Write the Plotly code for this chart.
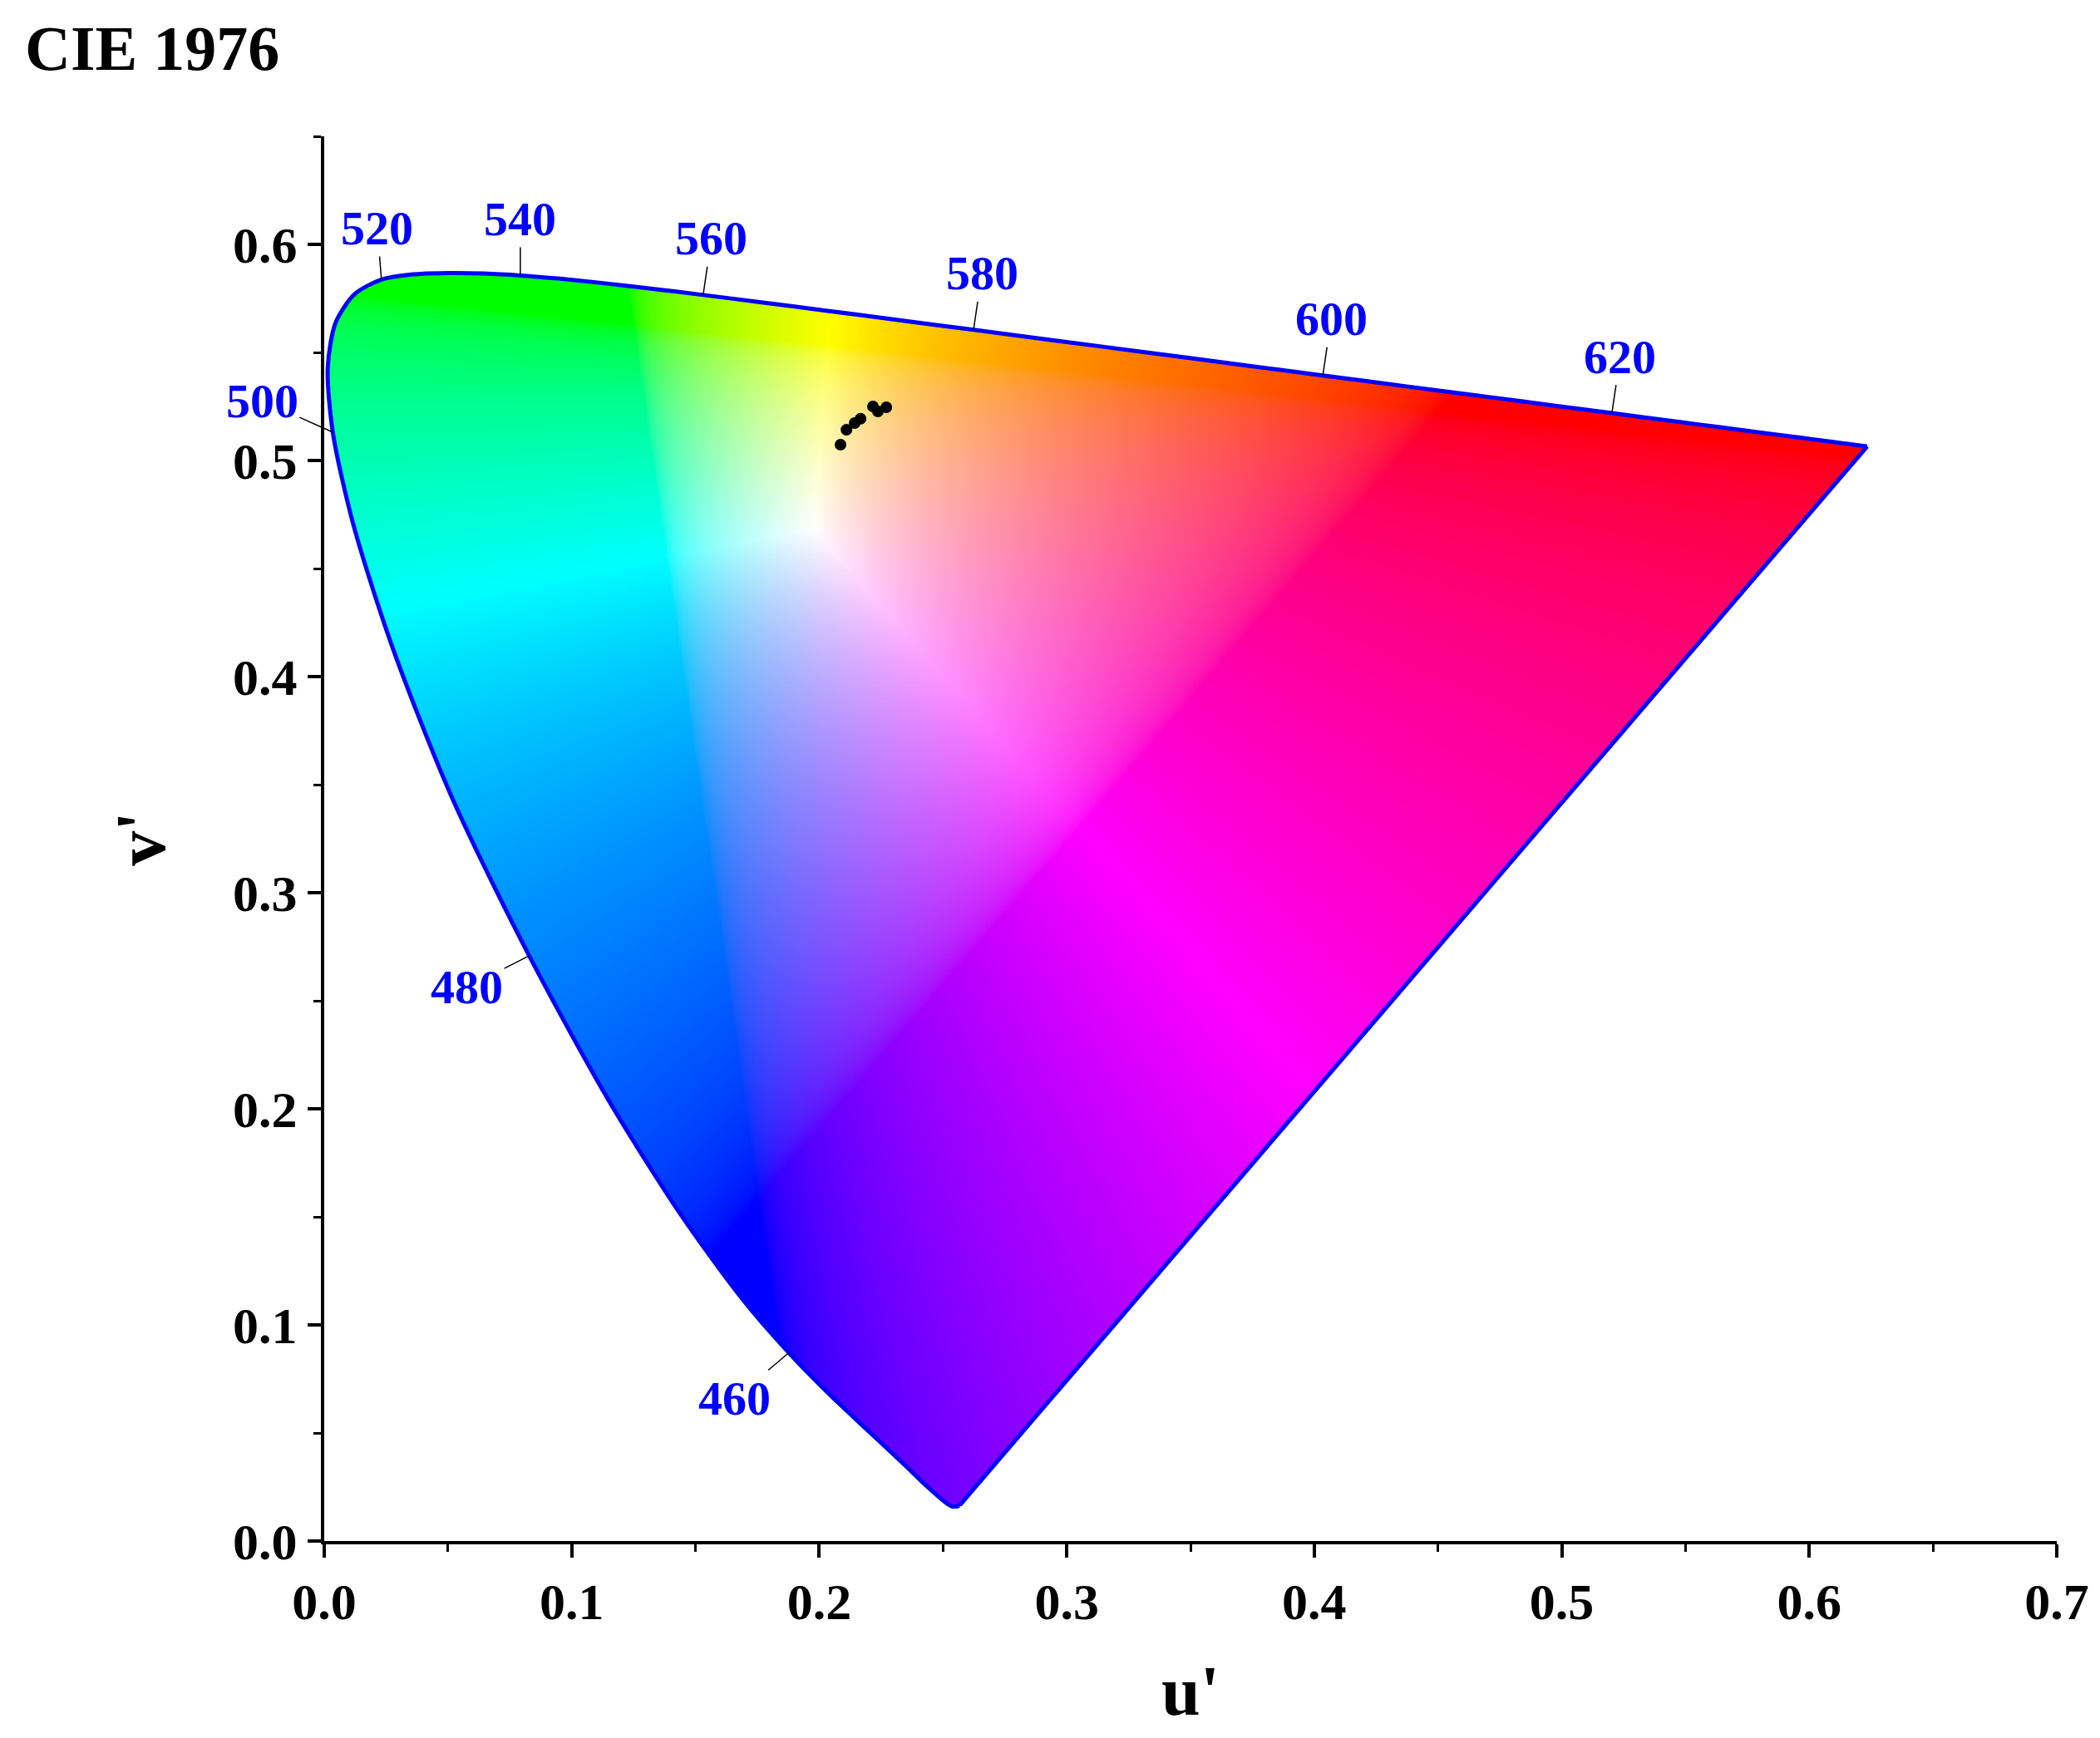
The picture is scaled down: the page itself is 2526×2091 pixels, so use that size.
import numpy as np
import plotly.graph_objects as go

# CIE 1931 2-degree spectral locus (x, y chromaticity)
wavelengths = [380,385,390,395,400,405,410,415,420,425,430,435,440,445,450,455,460,465,470,475,480,485,490,495,500,505,510,515,520,525,530,535,540,545,550,555,560,565,570,575,580,585,590,595,600,605,610,615,620,625,630,635,640,645,650,655,660,665,670,675,680,690,700]
locus_x = [0.1741,0.1740,0.1738,0.1736,0.1733,0.1730,0.1726,0.1721,0.1714,0.1703,0.1689,0.1669,0.1644,0.1611,0.1566,0.1510,0.1440,0.1355,0.1241,0.1096,0.0913,0.0687,0.0454,0.0235,0.0082,0.0039,0.0139,0.0389,0.0743,0.1142,0.1547,0.1929,0.2296,0.2658,0.3016,0.3373,0.3731,0.4087,0.4441,0.4788,0.5125,0.5448,0.5752,0.6029,0.6270,0.6482,0.6658,0.6801,0.6915,0.7006,0.7079,0.7140,0.7190,0.7230,0.7260,0.7283,0.7300,0.7311,0.7320,0.7327,0.7334,0.7344,0.7347]
locus_y = [0.0050,0.0050,0.0049,0.0049,0.0048,0.0048,0.0048,0.0048,0.0051,0.0058,0.0069,0.0086,0.0109,0.0138,0.0177,0.0227,0.0297,0.0399,0.0578,0.0868,0.1327,0.2007,0.2950,0.4127,0.5384,0.6548,0.7502,0.8120,0.8338,0.8262,0.8059,0.7816,0.7543,0.7243,0.6923,0.6589,0.6245,0.5896,0.5547,0.5202,0.4866,0.4544,0.4242,0.3965,0.3725,0.3514,0.3340,0.3197,0.3083,0.2993,0.2920,0.2859,0.2809,0.2770,0.2740,0.2717,0.2700,0.2689,0.2680,0.2673,0.2666,0.2656,0.2653]

label_wl = [460,480,500,520,540,560,580,600,620]
label_off = [(-65,55),(-75,38),(-85,-38),(-5,-62),(0,-68),(10,-68),(10,-68),(10,-68),(10,-68)]

# measured points (u', v')
pts_u = [0.2086,0.2110,0.2143,0.2167,0.2217,0.2237,0.2271]
pts_v = [0.5073,0.5142,0.5173,0.5193,0.5250,0.5227,0.5246]

lx = np.array(locus_x); ly = np.array(locus_y)
den = -2*lx + 12*ly + 3
lu = 4*lx/den; lv = 9*ly/den

# colour image
N = 800
du = 0.7/N; dv = 0.65/N
uu = (np.arange(N)+0.5)*du
vv = (np.arange(N)+0.5)*dv
U, V = np.meshgrid(uu, vv)
d = 6*U - 16*V + 12
x = 9*U/d; y = 4*V/d
y = np.maximum(y, 1e-6)
X = x/y; Y = np.ones_like(x); Z = (1-x-y)/y
R = 3.2406*X - 1.5372*Y - 0.4986*Z
G = -0.9689*X + 1.8758*Y + 0.0415*Z
B = 0.0557*X - 0.2040*Y + 1.0570*Z
rgb = np.stack([R, G, B], -1)
rgb = np.clip(rgb, 0, None)
rgb = rgb / np.maximum(rgb.max(-1, keepdims=True), 1e-9)
rgb = np.where(rgb <= 0.0031308, 12.92*rgb, 1.055*np.power(rgb, 1/2.4) - 0.055)

# point in polygon
pu = np.append(lu, lu[0]); pv = np.append(lv, lv[0])
inside = np.zeros(U.shape, bool)
for i in range(len(pu)-1):
    x1, y1, x2, y2 = pu[i], pv[i], pu[i+1], pv[i+1]
    cond = ((y1 > V) != (y2 > V))
    xint = x1 + (V - y1) * (x2 - x1) / (y2 - y1 + 1e-12)
    inside ^= cond & (U < xint)
img = np.zeros((N, N, 4), dtype=np.uint8)
img[..., :3] = (np.clip(rgb, 0, 1)*255).astype(np.uint8)
img[..., 3] = np.where(inside, 255, 0)

fig = go.Figure()
fig.add_trace(go.Image(z=img, colormodel="rgba", x0=du/2, dx=du, y0=dv/2, dy=dv, hoverinfo="skip"))
fig.add_trace(go.Scatter(x=list(lu), y=list(lv), mode="lines", line=dict(color="#0000ff", width=5, shape="spline", smoothing=0.8), hoverinfo="skip"))
fig.add_trace(go.Scatter(x=[lu[-1], lu[0]], y=[lv[-1], lv[0]], mode="lines", line=dict(color="#0000ff", width=5), hoverinfo="skip"))
fig.add_trace(go.Scatter(x=pts_u, y=pts_v, mode="markers", marker=dict(color="black", size=14)))

for wl, (ax, ay) in zip(label_wl, label_off):
    i = wavelengths.index(wl)
    fig.add_annotation(x=lu[i], y=lv[i], text="<b>%d</b>" % wl, showarrow=True, arrowhead=0,
                       arrowwidth=1.5, arrowcolor="black", ax=ax, ay=ay, standoff=0,
                       font=dict(family="Liberation Serif", size=58, color="#0000ff"))

fig.add_annotation(x=0, y=1, xref="paper", yref="paper", xanchor="left", yanchor="bottom",
                   xshift=-362, yshift=62, text="<b>CIE 1976</b>", showarrow=False,
                   font=dict(family="Liberation Serif", size=76, color="black"))

axfont = dict(family="Liberation Serif", size=62, color="black", weight="bold")
titlefont = dict(family="Liberation Serif", size=84, color="black", weight="bold")
common = dict(showgrid=False, zeroline=False, showline=True, linecolor="black", linewidth=4,
              ticks="outside", ticklen=16, tickwidth=4, tickcolor="black", tickfont=axfont,
              automargin=False, constrain="range",
              minor=dict(ticks="outside", ticklen=9, tickwidth=3, tickcolor="black", dtick=0.05))
fig.update_xaxes(range=[0, 0.7], dtick=0.1, tick0=0, tickformat=".1f",
                 title=dict(text="u'", font=titlefont, standoff=45), **common)
fig.update_yaxes(range=[0, 0.65], dtick=0.1, tick0=0, tickformat=".1f", autorange=False,
                 scaleanchor=False,
                 title=dict(text="v'", font=titlefont, standoff=55), **common)
fig.update_layout(width=2526, height=2091, plot_bgcolor="white", paper_bgcolor="white",
                  showlegend=False, margin=dict(l=382, r=60, t=156, b=245),
                  font=dict(family="Liberation Serif"))
fig.write_html("out.html")
